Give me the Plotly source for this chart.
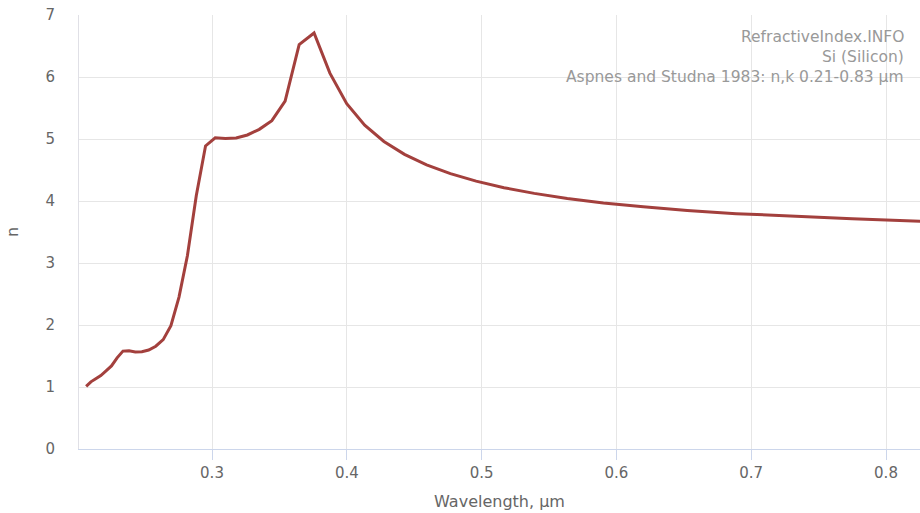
import plotly.graph_objects as go

# Photon energies (eV) of the Aspnes & Studna 1983 table, converted to wavelength in µm
energy_ev = [6.0, 5.9, 5.8, 5.7, 5.6, 5.5, 5.4, 5.3, 5.2, 5.1, 5.0, 4.9, 4.8, 4.7, 4.6,
             4.5, 4.4, 4.3, 4.2, 4.1, 4.0, 3.9, 3.8, 3.7, 3.6, 3.5, 3.4, 3.3, 3.2, 3.1,
             3.0, 2.9, 2.8, 2.7, 2.6, 2.5, 2.4, 2.3, 2.2, 2.1, 2.0, 1.9, 1.8, 1.7, 1.6, 1.5]
n_values = [1.010, 1.083, 1.133, 1.185, 1.260, 1.340, 1.471, 1.579, 1.583, 1.565, 1.570,
            1.597, 1.658, 1.764, 1.988, 2.451, 3.120, 4.086, 4.888, 5.020, 5.010, 5.016,
            5.065, 5.156, 5.296, 5.610, 6.522, 6.709, 6.062, 5.570, 5.222, 4.961, 4.753,
            4.583, 4.442, 4.320, 4.215, 4.123, 4.042, 3.969, 3.906, 3.847, 3.796, 3.752,
            3.714, 3.673]
wavelength_um = [1.239842 / e for e in energy_ev]

x_ticks = [0.3, 0.4, 0.5, 0.6, 0.7, 0.8]
y_ticks = [0, 1, 2, 3, 4, 5, 6, 7]
info_lines = ["RefractiveIndex.INFO", "Si (Silicon)", "Aspnes and Studna 1983: n,k 0.21-0.83 µm"]

FONT = "DejaVu Sans"

fig = go.Figure()
fig.add_trace(go.Scatter(
    x=wavelength_um, y=n_values, mode="lines",
    line=dict(color="#a3403d", width=3),
    hoverinfo="skip", showlegend=False,
))

fig.update_layout(
    width=920, height=513,
    margin=dict(l=79, r=0, t=15, b=64),
    paper_bgcolor="white", plot_bgcolor="white",
    font=dict(family=FONT, color="#666666", size=15),
    xaxis=dict(
        range=[0.20134, 0.82522], tickvals=x_ticks, ticktext=[str(v) for v in x_ticks],
        showgrid=True, gridcolor="#e6e6e6", gridwidth=1,
        showline=True, linecolor="#ccd6eb", linewidth=1,
        ticks="outside", ticklen=10, tickcolor="#ccd6eb",
        tickfont=dict(family=FONT, size=15, color="#666666"),
        title=dict(text="Wavelength, µm", font=dict(family=FONT, size=16, color="#666666"), standoff=14),
        zeroline=False,
    ),
    yaxis=dict(
        range=[0, 7], tickvals=y_ticks, ticktext=[str(v) for v in y_ticks],
        showgrid=True, gridcolor="#e6e6e6", gridwidth=1,
        showline=True, linecolor="#e0e0e6", linewidth=1,
        ticks="", ticklabelstandoff=20,
        tickfont=dict(family=FONT, size=15, color="#666666"),
        title=dict(text="n", font=dict(family=FONT, size=16, color="#666666"), standoff=22),
        zeroline=False,
    ),
)

for i, txt in enumerate(info_lines):
    fig.add_annotation(
        x=906, y=37 + 20 * i, xref="paper", yref="paper", text=txt, showarrow=False,
        xanchor="right", yanchor="middle",
        font=dict(family=FONT, size=15.5, color="#999999"),
    )

# convert pixel coordinates of annotations to paper coordinates
plot_w = 920 - 79
plot_h = 513 - 15 - 64
for ann in fig.layout.annotations:
    px, py = ann.x, ann.y
    ann.x = (px - 79) / plot_w
    ann.y = 1 - (py - 15) / plot_h

fig.write_html("out.html")
